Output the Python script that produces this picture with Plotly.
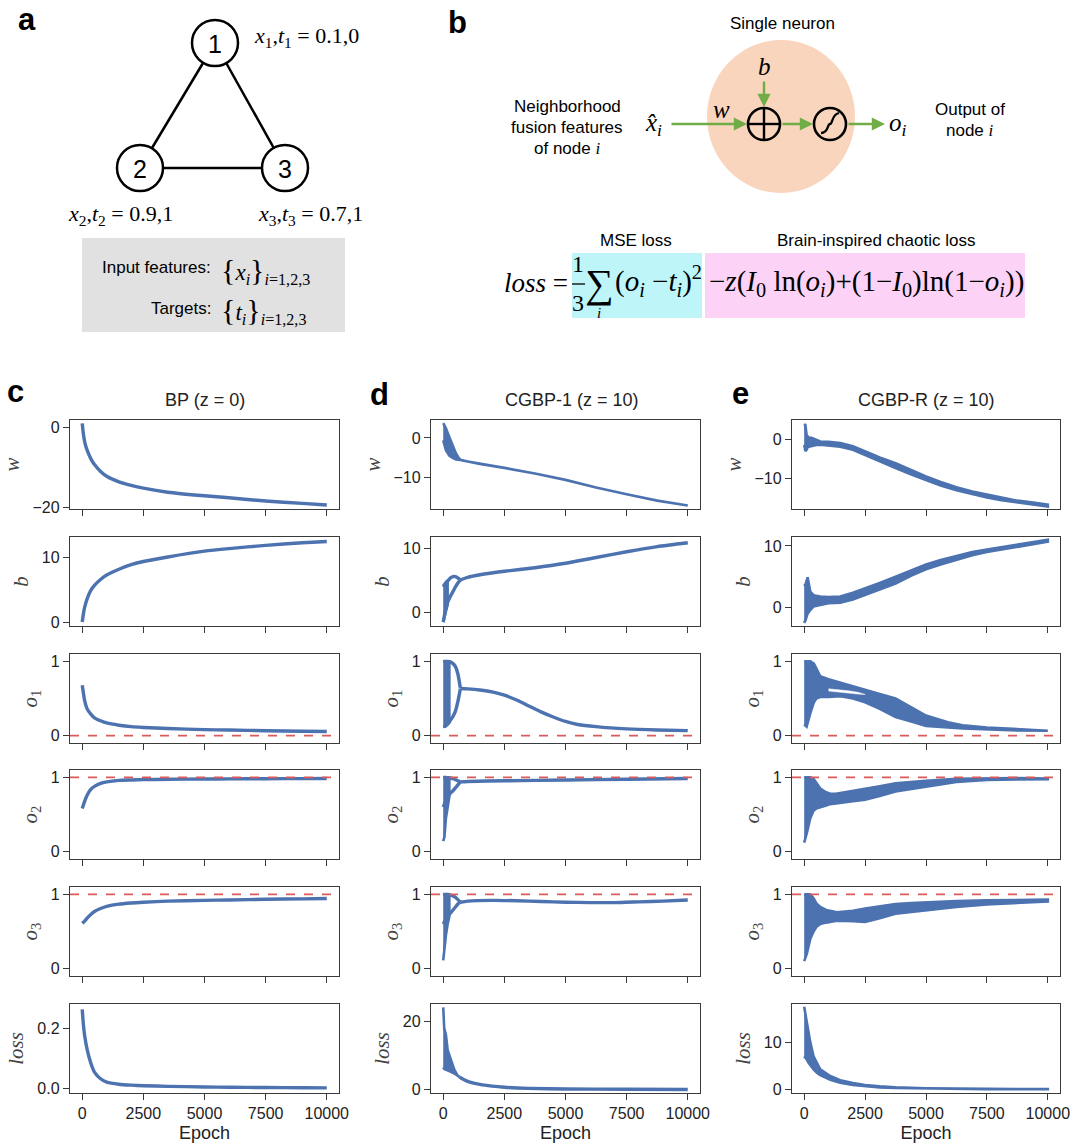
import plotly.graph_objects as go

W, H = 1075, 1147
BLUE = "#4C72B0"
RED = "#DB5B5B"
GREEN = "#70AD47"
AX = "#3A3A3A"
TXT = "#222222"
SANS = "Liberation Sans, Arial, sans-serif"
SERIF = "Liberation Serif, Times New Roman, serif"

# ---------------- data ----------------
EPOCH_TICKS = [0, 2500, 5000, 7500, 10000]
EPOCH_TICKTEXT = ["0", "2500", "5000", "7500", "10000"]
TARGETS = [0, 1, 1]          # t1, t2, t3
COLUMN_TITLES = ["BP (z = 0)", "CGBP-1 (z = 10)", "CGBP-R (z = 10)"]
ROW_LABELS = ["<i>w</i>", "<i>b</i>", "<i>o</i><sub>1</sub>", "<i>o</i><sub>2</sub>",
              "<i>o</i><sub>3</sub>", "<i>loss</i>"]

# --- c: BP (z = 0) : smooth curves
c_ep = [0, 50, 100, 200, 350, 500, 750, 1000, 1500, 2000, 2500, 3500, 5000, 6000, 7500, 9000, 10000]
c_w = [1.0, -1.8, -3.6, -5.7, -7.8, -9.3, -11.0, -12.2, -13.6, -14.5, -15.2, -16.2, -17.1, -17.6, -18.4, -19.0, -19.4]
c_b = [0.0, 1.3, 2.3, 3.6, 4.9, 5.7, 6.6, 7.3, 8.2, 8.9, 9.4, 10.1, 11.0, 11.4, 11.9, 12.3, 12.5]
c_o1 = [0.68, 0.57, 0.47, 0.36, 0.29, 0.24, 0.20, 0.17, 0.14, 0.12, 0.11, 0.095, 0.08, 0.075, 0.065, 0.058, 0.055]
c_o2 = [0.58, 0.63, 0.68, 0.76, 0.84, 0.88, 0.92, 0.94, 0.96, 0.965, 0.97, 0.975, 0.978, 0.98, 0.982, 0.984, 0.985]
c_o3 = [0.61, 0.625, 0.64, 0.68, 0.73, 0.77, 0.81, 0.84, 0.87, 0.885, 0.895, 0.91, 0.92, 0.925, 0.935, 0.94, 0.945]
c_loss = [0.262, 0.21, 0.175, 0.13, 0.085, 0.055, 0.033, 0.022, 0.015, 0.012, 0.01, 0.008, 0.006, 0.005, 0.004, 0.0035, 0.003]

# --- d: CGBP-1 (z = 10) : early chaotic band + two loop branches + converged curve
d_w_ep = [0, 110, 247, 385, 522, 632, 700, 1000, 1500, 2500, 3750, 5000, 6250, 7500, 8750, 10000]
d_w_hi = [3.7, 2.4, 0.25, -1.8, -3.9, -5.0, -5.5, -5.9, -6.5, -7.5, -8.9, -10.5, -12.4, -14.1, -15.7, -16.9]
d_w_lo = [-0.6, -3.1, -4.4, -5.0, -5.4, -5.5, -5.5, -5.9, -6.5, -7.5, -8.9, -10.5, -12.4, -14.1, -15.7, -16.9]

d_b_chaos_ep = [0, 50, 110, 180]
d_b_chaos_hi = [4.2, 4.5, 4.8, 5.0]
d_b_chaos_lo = [-1.5, -0.8, 0.2, 1.2]
d_branch_ep = [0, 100, 200, 300, 400, 500, 600, 700]
d_b_upper = [4.0, 4.5, 5.0, 5.4, 5.6, 5.6, 5.4, 5.1]
d_b_lower = [-1.5, 0.5, 1.8, 2.6, 3.3, 4.0, 4.6, 5.1]
d_b_ep = [700, 1000, 1500, 2500, 3750, 5000, 6250, 7500, 8750, 10000]
d_b = [5.1, 5.5, 5.9, 6.45, 7.0, 7.7, 8.6, 9.5, 10.3, 10.9]

d_o_chaos_ep = [0, 50, 110, 180, 250]
d_o1_chaos_hi = [1.0, 1.0, 1.0, 1.0, 1.0]
d_o1_chaos_lo = [0.12, 0.12, 0.13, 0.16, 0.18]
d_o1_upper = [1.0, 1.0, 1.0, 0.99, 0.97, 0.93, 0.83, 0.64]
d_o1_lower = [0.12, 0.13, 0.16, 0.21, 0.26, 0.33, 0.46, 0.63]
d_o1_ep = [700, 1000, 1500, 2000, 2500, 3000, 3500, 4000, 4500, 5000, 5500, 6250, 7500, 8750, 10000]
d_o1 = [0.635, 0.63, 0.615, 0.59, 0.545, 0.48, 0.4, 0.32, 0.25, 0.19, 0.15, 0.12, 0.09, 0.075, 0.067]

d_o2_chaos_hi = [1.0, 1.0, 1.0, 1.0, 1.0]
d_o2_chaos_lo = [0.14, 0.2, 0.45, 0.62, 0.74]
d_o2_upper = [1.0, 1.0, 0.995, 0.99, 0.985, 0.97, 0.955, 0.94]
d_o2_lower = [0.6, 0.68, 0.74, 0.79, 0.82, 0.86, 0.9, 0.94]
d_o2_ep = [700, 1000, 2500, 5000, 7500, 10000]
d_o2 = [0.94, 0.945, 0.955, 0.965, 0.975, 0.985]

d_o3_chaos_hi = [1.0, 1.0, 1.0, 1.0, 1.0]
d_o3_chaos_lo = [0.11, 0.25, 0.45, 0.6, 0.7]
d_o3_upper = [1.0, 1.0, 1.0, 0.99, 0.98, 0.96, 0.93, 0.895]
d_o3_lower = [0.6, 0.66, 0.71, 0.75, 0.79, 0.83, 0.87, 0.895]
d_o3_ep = [700, 1000, 2000, 3000, 4000, 5000, 6000, 7000, 8000, 9000, 10000]
d_o3 = [0.895, 0.91, 0.92, 0.915, 0.905, 0.895, 0.89, 0.89, 0.9, 0.91, 0.925]

d_loss_chaos_ep = [0, 40, 110, 180, 316, 453, 590, 660]
d_loss_chaos_hi = [24, 18, 16, 11.6, 8.7, 5.8, 4.1, 3.7]
d_loss_chaos_lo = [6.5, 6.0, 5.8, 5.6, 5.2, 4.7, 4.1, 3.7]
d_loss_ep = [660, 1000, 1500, 2000, 2500, 3500, 5000, 7500, 10000]
d_loss = [3.7, 2.4, 1.5, 1.0, 0.68, 0.35, 0.18, 0.08, 0.03]

# --- e: CGBP-R (z = 10) : scattered band, envelope (low / high)
e_w_ep = [0, 50, 100, 150, 200, 300, 400, 500, 660, 1000, 1480, 2000, 2500, 3100, 3750, 4400,
          5000, 5600, 6250, 6900, 7500, 8100, 8750, 9400, 10000]
e_w_hi = [3.8, 3.5, 1.0, 0.5, 0.3, 0.3, 0.0, -0.3, -0.6, -0.7, -1.0, -1.8, -3.1, -4.6, -6.05, -7.8,
          -9.4, -10.8, -12.1, -13.2, -14.0, -14.8, -15.5, -16.0, -16.5]
e_w_lo = [-1.5, -3.0, -2.7, -2.0, -1.9, -1.8, -1.6, -1.5, -1.4, -1.6, -1.9, -2.7, -4.2, -5.6, -7.3, -8.9,
          -10.4, -11.7, -12.9, -13.9, -14.7, -15.4, -16.0, -16.5, -17.0]

e_b_ep = [0, 60, 140, 250, 380, 500, 660, 1000, 1480, 2000, 2500, 3100, 3750, 4400, 5000, 5600,
          6250, 6900, 7500, 8100, 8750, 9400, 10000]
e_b_hi = [3.5, 3.8, 4.9, 2.6, 2.0, 1.9, 1.8, 1.7, 1.8, 2.4, 3.1, 4.0, 5.0, 6.1, 7.0, 7.7,
          8.4, 9.0, 9.4, 9.8, 10.2, 10.6, 11.0]
e_b_lo = [-2.5, -2.0, -1.0, -0.4, 0.15, 0.3, 0.4, 0.7, 0.8, 1.3, 2.0, 2.9, 3.9, 5.2, 6.2, 7.0,
          7.8, 8.5, 9.0, 9.4, 9.8, 10.3, 10.7]

e_o1_ep = [0, 100, 250, 400, 500, 660, 1000, 1500, 2000, 2500, 3100, 3750, 4500, 5000, 5900,
           6500, 7500, 8750, 10000]
e_o1_hi = [1.0, 1.0, 1.0, 0.97, 0.9, 0.8, 0.76, 0.71, 0.66, 0.61, 0.56, 0.5, 0.36, 0.27, 0.18,
           0.14, 0.11, 0.09, 0.075]
e_o1_lo = [0.15, 0.12, 0.3, 0.45, 0.5, 0.52, 0.52, 0.53, 0.5, 0.45, 0.36, 0.25, 0.18, 0.13, 0.11,
           0.095, 0.08, 0.07, 0.065]
# white gap between the upper strand and the lower band of o1 (CGBP-R)
e_o1_gap_ep = [1000, 1400, 1800, 2200, 2500]
e_o1_gap_lo = [0.60, 0.585, 0.57, 0.56, 0.555]
e_o1_gap_hi = [0.63, 0.62, 0.605, 0.585, 0.565]

e_o2_ep = [0, 110, 250, 385, 500, 660, 900, 1070, 1300, 1480, 2000, 2500, 3100, 3750, 4400, 5000,
           6250, 7500, 8750, 10000]
e_o2_hi = [1.0, 1.0, 1.0, 0.98, 0.92, 0.85, 0.8, 0.78, 0.78, 0.79, 0.81, 0.84, 0.88, 0.92, 0.94,
           0.955, 0.98, 0.99, 0.99, 0.985]
e_o2_lo = [0.12, 0.25, 0.45, 0.55, 0.58, 0.6, 0.62, 0.64, 0.65, 0.66, 0.68, 0.7, 0.75, 0.81, 0.85,
           0.88, 0.94, 0.965, 0.972, 0.975]

e_o3_ep = [0, 110, 250, 385, 500, 660, 900, 1350, 2000, 2500, 3100, 3750, 4400, 5000, 6250,
           7500, 8750, 10000]
e_o3_hi = [1.0, 1.0, 1.0, 0.95, 0.88, 0.83, 0.79, 0.76, 0.78, 0.81, 0.84, 0.87, 0.885, 0.895,
           0.91, 0.92, 0.925, 0.93]
e_o3_lo = [0.1, 0.2, 0.4, 0.5, 0.56, 0.6, 0.62, 0.645, 0.64, 0.63, 0.68, 0.74, 0.76, 0.78,
           0.83, 0.865, 0.885, 0.905]

e_loss_ep = [0, 50, 110, 180, 250, 385, 520, 660, 1070, 1480, 2000, 2500, 3100, 3750, 5000,
             6250, 7500, 10000]
e_loss_hi = [17.5, 16, 14.5, 12, 10, 7, 5.5, 4.2, 2.8, 1.9, 1.3, 0.9, 0.6, 0.4, 0.2, 0.12, 0.08, 0.05]
e_loss_lo = [7, 6.8, 6.3, 5.6, 5.0, 4.2, 3.5, 3.0, 2.0, 1.4, 0.9, 0.6, 0.4, 0.25, 0.1, 0.05, 0.02, 0.0]

# axis ranges / ticks per column (rows: w, b, o1, o2, o3, loss)
Y_RANGES = [
    [[-20.4, 1.85], [-0.62, 13.2], [-0.1, 1.1], [-0.1, 1.1], [-0.1, 1.1], [-0.014, 0.28]],
    [[-17.8, 4.5], [-2.1, 11.8], [-0.1, 1.1], [-0.1, 1.1], [-0.1, 1.1], [-1.0, 25.0]],
    [[-17.6, 4.8], [-3.0, 11.45], [-0.1, 1.1], [-0.1, 1.1], [-0.1, 1.1], [-0.8, 18.1]],
]
Y_TICKS = [
    [[-20, 0], [0, 10], [0, 1], [0, 1], [0, 1], [0.0, 0.2]],
    [[-10, 0], [0, 10], [0, 1], [0, 1], [0, 1], [0, 20]],
    [[-10, 0], [0, 10], [0, 1], [0, 1], [0, 1], [0, 10]],
]
Y_TICKTEXT_C_LOSS = ["0.0", "0.2"]

# plot content: (bands, lines, white gaps) per column/row
PANELS = [
    [  # c
        ([], [(c_ep, c_w)], []),
        ([], [(c_ep, c_b)], []),
        ([], [(c_ep, c_o1)], []),
        ([], [(c_ep, c_o2)], []),
        ([], [(c_ep, c_o3)], []),
        ([], [(c_ep, c_loss)], []),
    ],
    [  # d
        ([(d_w_ep, d_w_lo, d_w_hi)], [], []),
        ([(d_b_chaos_ep, d_b_chaos_lo, d_b_chaos_hi)],
         [(d_branch_ep, d_b_upper), (d_branch_ep, d_b_lower), (d_b_ep, d_b)], []),
        ([(d_o_chaos_ep, d_o1_chaos_lo, d_o1_chaos_hi)],
         [(d_branch_ep, d_o1_upper), (d_branch_ep, d_o1_lower), (d_o1_ep, d_o1)], []),
        ([(d_o_chaos_ep, d_o2_chaos_lo, d_o2_chaos_hi)],
         [(d_branch_ep, d_o2_upper), (d_branch_ep, d_o2_lower), (d_o2_ep, d_o2)], []),
        ([(d_o_chaos_ep, d_o3_chaos_lo, d_o3_chaos_hi)],
         [(d_branch_ep, d_o3_upper), (d_branch_ep, d_o3_lower), (d_o3_ep, d_o3)], []),
        ([(d_loss_chaos_ep, d_loss_chaos_lo, d_loss_chaos_hi)], [(d_loss_ep, d_loss)], []),
    ],
    [  # e
        ([(e_w_ep, e_w_lo, e_w_hi)], [], []),
        ([(e_b_ep, e_b_lo, e_b_hi)], [], []),
        ([(e_o1_ep, e_o1_lo, e_o1_hi)], [], [(e_o1_gap_ep, e_o1_gap_lo, e_o1_gap_hi)]),
        ([(e_o2_ep, e_o2_lo, e_o2_hi)], [], []),
        ([(e_o3_ep, e_o3_lo, e_o3_hi)], [], []),
        ([(e_loss_ep, e_loss_lo, e_loss_hi)], [], []),
    ],
]

# ---------------- layout geometry (pixels) ----------------
COL_X = [(70, 339), (431, 700), (792, 1060)]
ROW_TOP = [420, 537, 654, 770, 887, 1004]
ROW_H = 89


def X(px):
    return px / W


def Y(py):
    return 1 - py / H


fig = go.Figure()
layout = dict(
    width=W, height=H, margin=dict(l=0, r=0, t=0, b=0, autoexpand=False),
    paper_bgcolor="white", plot_bgcolor="white", showlegend=False,
    font=dict(family=SANS, color=TXT),
)
shapes = []
annotations = []

for j in range(3):
    for r in range(6):
        k = r * 3 + j + 1
        xa = "x" if k == 1 else f"x{k}"
        ya = "y" if k == 1 else f"y{k}"
        bands, lines, gaps = PANELS[j][r]
        for ep, lo, hi in bands:
            fig.add_trace(go.Scatter(
                x=list(ep) + list(ep)[::-1], y=list(hi) + list(lo)[::-1],
                fill="toself", fillcolor=BLUE, mode="lines",
                line=dict(color=BLUE, width=2.6), hoverinfo="skip",
                xaxis=xa, yaxis=ya))
        for ep, lo, hi in gaps:
            fig.add_trace(go.Scatter(
                x=list(ep) + list(ep)[::-1], y=list(hi) + list(lo)[::-1],
                fill="toself", fillcolor="white", mode="lines",
                line=dict(color="white", width=0.5), hoverinfo="skip",
                xaxis=xa, yaxis=ya))
        for ep, vals in lines:
            fig.add_trace(go.Scatter(
                x=ep, y=vals, mode="lines",
                line=dict(color=BLUE, width=3.4, shape="spline", smoothing=0.6),
                hoverinfo="skip", xaxis=xa, yaxis=ya))

        x0, x1 = COL_X[j]
        top = ROW_TOP[r]
        xkey = "xaxis" if k == 1 else f"xaxis{k}"
        ykey = "yaxis" if k == 1 else f"yaxis{k}"
        xd = dict(domain=[X(x0), X(x1)], anchor=ya, range=[-500, 10500], automargin=False,
                  tickvals=EPOCH_TICKS, ticktext=EPOCH_TICKTEXT, showticklabels=(r == 5),
                  ticks="outside", ticklen=6, tickwidth=1.3, tickcolor=AX, showline=True,
                  linecolor=AX, linewidth=1.4, mirror=True, showgrid=False, zeroline=False,
                  tickfont=dict(family=SANS, size=16, color=TXT))
        if r == 5:
            xd["title"] = dict(text="Epoch", font=dict(family=SANS, size=18, color=TXT), standoff=4)
        yd = dict(domain=[Y(top + ROW_H), Y(top)], anchor=xa, range=Y_RANGES[j][r], automargin=False,
                  tickvals=Y_TICKS[j][r], ticks="outside", ticklen=6, tickwidth=1.3,
                  tickcolor=AX, showline=True, linecolor=AX, linewidth=1.4, mirror=True,
                  showgrid=False, zeroline=False,
                  tickfont=dict(family=SANS, size=16, color=TXT),
                  title=dict(text=ROW_LABELS[r], font=dict(family=SERIF, size=21, color="#444444"),
                             standoff=7))
        if j == 0 and r == 5:
            yd["ticktext"] = Y_TICKTEXT_C_LOSS
        layout[xkey] = xd
        layout[ykey] = yd

        if 2 <= r <= 4:
            shapes.append(dict(type="line", xref=f"{xa} domain", yref=ya, x0=0, x1=1,
                               y0=TARGETS[r - 2], y1=TARGETS[r - 2],
                               line=dict(color=RED, width=1.6, dash="dash"), layer="above"))

    annotations.append(dict(text=COLUMN_TITLES[j],
                            x=X((COL_X[j][0] + COL_X[j][1]) / 2 + (6 if j == 1 else 0)),
                            y=Y(400), xref="paper", yref="paper", showarrow=False,
                            font=dict(family=SANS, size=18, color=TXT), xanchor="center", yanchor="middle"))

# panel letters
for letter, px, py in [("a", 27, 19), ("b", 457, 22), ("c", 15, 392), ("d", 379, 394), ("e", 740, 393)]:
    annotations.append(dict(text=f"<b>{letter}</b>", x=X(px), y=Y(py), xref="paper", yref="paper",
                            showarrow=False, font=dict(family=SANS, size=31, color="black"),
                            xanchor="center", yanchor="middle"))


def text(t, px, py, size=17, family=SANS, xanchor="center", color="black"):
    annotations.append(dict(text=t, x=X(px), y=Y(py), xref="paper", yref="paper", showarrow=False,
                            font=dict(family=family, size=size, color=color),
                            xanchor=xanchor, yanchor="middle"))


def circle(cx, cy, rad, fill="white", width=2.5):
    shapes.append(dict(type="circle", xref="paper", yref="paper", x0=X(cx - rad), x1=X(cx + rad),
                       y0=Y(cy + rad), y1=Y(cy - rad), fillcolor=fill,
                       line=dict(color="black", width=width), layer="above"))


def seg(xa_, ya_, xb_, yb_, width=2.5, color="black"):
    shapes.append(dict(type="line", xref="paper", yref="paper", x0=X(xa_), y0=Y(ya_), x1=X(xb_), y1=Y(yb_),
                       line=dict(color=color, width=width), layer="above"))


def arrow(tx, ty, hx, hy):
    annotations.append(dict(x=X(hx), y=Y(hy), xref="paper", yref="paper", ax=tx - hx, ay=ty - hy,
                            text="", showarrow=True, arrowhead=2, arrowsize=1.1, arrowwidth=2.4,
                            arrowcolor=GREEN))


# ---------------- panel a ----------------
N1, N2, N3 = (215, 43), (140, 168), (285, 168)
seg(*N1, *N2)
seg(*N1, *N3)
seg(*N2, *N3)
for (cx, cy), lab in [(N1, "1"), (N2, "2"), (N3, "3")]:
    circle(cx, cy, 23)
    text(lab, cx, cy + 1, size=25)
text("<i>x</i><sub>1</sub>,<i>t</i><sub>1</sub> = 0.1,0", 252, 37, size=22, family=SERIF, xanchor="left")
text("<i>x</i><sub>2</sub>,<i>t</i><sub>2</sub> = 0.9,1", 66, 215, size=22, family=SERIF, xanchor="left")
text("<i>x</i><sub>3</sub>,<i>t</i><sub>3</sub> = 0.7,1", 256, 215, size=22, family=SERIF, xanchor="left")
shapes.append(dict(type="rect", xref="paper", yref="paper", x0=X(82), x1=X(345), y0=Y(332), y1=Y(238),
                   fillcolor="#E1E1E1", line=dict(width=0), layer="below"))
text("Input features:", 213, 268, size=17, xanchor="right")
text("Targets:", 213, 308, size=17, xanchor="right")
BR = "<span style='font-size:30px'>{</span>"
BL = "<span style='font-size:30px'>}</span>"
text(BR + "<i>x</i><sub><i>i</i></sub>" + BL + "<sub><i>i</i>=1,2,3</sub>", 219, 270, size=23,
     family=SERIF, xanchor="left")
text(BR + "<i>t</i><sub><i>i</i></sub>" + BL + "<sub><i>i</i>=1,2,3</sub>", 219, 310, size=23,
     family=SERIF, xanchor="left")

# ---------------- panel b ----------------
text("Single neuron", 782, 24, size=17)
shapes.append(dict(type="circle", xref="paper", yref="paper", x0=X(707), x1=X(855), y0=Y(193), y1=Y(40),
                   fillcolor="#F9D5BD", line=dict(width=0), layer="below"))
OPLUS = (764, 124)
SIGM = (830, 124)
circle(*OPLUS, 16, fill="rgba(0,0,0,0)", width=2.6)
seg(OPLUS[0] - 16, OPLUS[1], OPLUS[0] + 16, OPLUS[1], width=2.4)
seg(OPLUS[0], OPLUS[1] - 16, OPLUS[0], OPLUS[1] + 16, width=2.4)
circle(*SIGM, 16, fill="rgba(0,0,0,0)", width=2.6)
sx, sy = SIGM
path = (f"M {X(sx - 9)},{Y(sy + 9)} C {X(sx - 1)},{Y(sy + 9)} {X(sx - 3)},{Y(sy)} {X(sx)},{Y(sy)} "
        f"C {X(sx + 3)},{Y(sy)} {X(sx + 1)},{Y(sy - 9)} {X(sx + 9)},{Y(sy - 11)}")
shapes.append(dict(type="path", xref="paper", yref="paper", path=path,
                   line=dict(color="black", width=2.3), layer="above"))
text("<i>b</i>", 764, 66, size=25, family=SERIF)
arrow(764, 80, 764, 107)
text("<i>w</i>", 721, 110, size=25, family=SERIF)
text("<i>x̂</i><sub><i>i</i></sub>", 653, 124, size=25, family=SERIF)
arrow(670, 124, 747, 124)
arrow(781, 124, 813, 124)
arrow(847, 124, 885, 124)
text("<i>o</i><sub><i>i</i></sub>", 898, 124, size=25, family=SERIF)
I_SERIF = "<span style='font-family:Liberation Serif'><i>i</i></span>"
text("Neighborhood", 567, 106, size=17)
text("fusion features", 567, 127, size=17)
text("of node " + I_SERIF, 567, 148, size=17)
text("Output of", 970, 110, size=17)
text("node " + I_SERIF, 970, 131, size=17)

# equation
text("MSE loss", 636, 240, size=17)
text("Brain-inspired chaotic loss", 876, 240, size=17)
shapes.append(dict(type="rect", xref="paper", yref="paper", x0=X(572), x1=X(702), y0=Y(318), y1=Y(253),
                   fillcolor="#BEF5F9", line=dict(width=0), layer="below"))
shapes.append(dict(type="rect", xref="paper", yref="paper", x0=X(705), x1=X(1025), y0=Y(318), y1=Y(253),
                   fillcolor="#FCD3F6", line=dict(width=0), layer="below"))
text("<i>loss</i> =", 570, 283, size=27, family=SERIF, xanchor="right")
text("1", 578, 264, size=24, family=SERIF)
text("3", 578, 303, size=24, family=SERIF)
seg(572, 284, 585, 284, width=1.3)
text("∑", 599, 284, size=40, family=SERIF)
text("<i>i</i>", 599, 313, size=15, family=SERIF)
text("(<i>o</i><sub><i>i</i></sub> −<i>t</i><sub><i>i</i></sub>)<sup>2</sup>", 613, 281, size=29,
     family=SERIF, xanchor="left")
text("−<i>z</i>(<i>I</i><sub>0</sub> ln(<i>o</i><sub><i>i</i></sub>)+(1−<i>I</i><sub>0</sub>)ln(1−"
     "<i>o</i><sub><i>i</i></sub>))", 866, 283, size=29, family=SERIF)

layout["shapes"] = shapes
layout["annotations"] = annotations
fig.update_layout(**layout)
fig.write_html("out.html")
